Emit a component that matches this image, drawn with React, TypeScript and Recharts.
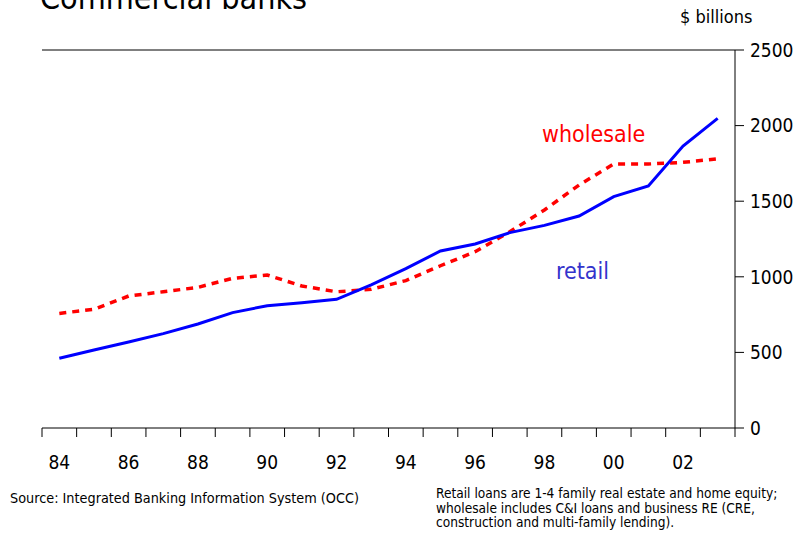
import React from 'react';
import {
  LineChart,
  Line,
  XAxis,
  YAxis,
  ReferenceLine,
} from 'recharts';

const years = [
  1984, 1985, 1986, 1987, 1988, 1989, 1990, 1991, 1992, 1993,
  1994, 1995, 1996, 1997, 1998, 1999, 2000, 2001, 2002, 2003,
];
const retail = [
  461, 516, 569, 624, 688, 763, 809, 829, 851, 946,
  1054, 1171, 1217, 1292, 1340, 1402, 1530, 1601, 1865, 2048,
];
const wholesale = [
  758, 785, 873, 901, 930, 990, 1012, 939, 901, 917,
  975, 1073, 1166, 1298, 1442, 1607, 1746, 1746, 1757, 1780,
];
const yTicks = [0, 500, 1000, 1500, 2000, 2500];
// boundaries between year bands, where the tick marks go
const yearEdges = [...years.map((y) => y - 0.5), 2003.5];

const data = years.map((year, i) => ({
  year,
  retail: retail[i],
  wholesale: wholesale[i],
}));

const FONT = "'DejaVu Sans Condensed', 'Liberation Sans Narrow', sans-serif";
const HALF_BAND = 17.3;

function YearTick(props: any) {
  const { x, y, payload } = props;
  const year = payload.value + 0.5;
  if (year > 2003 || year % 2 !== 0) return null;
  return (
    <text
      x={x + HALF_BAND}
      y={y + 30}
      textAnchor="middle"
      fontSize={19}
      fontFamily={FONT}
      fill="#000"
    >
      {String(year % 100).padStart(2, '0')}
    </text>
  );
}

export default function App() {
  return (
    <div
      style={{
        position: 'absolute',
        left: 0,
        top: 0,
        width: 802,
        height: 533,
        background: '#fff',
        overflow: 'hidden',
        fontFamily: FONT,
      }}
    >
      <div
        style={{
          position: 'absolute',
          left: 40,
          top: -22,
          fontSize: 32,
          lineHeight: '40px',
          color: '#000',
        }}
      >
        Commercial banks
      </div>
      <div
        style={{
          position: 'absolute',
          left: 680,
          top: 6,
          fontSize: 18,
          lineHeight: '22px',
        }}
      >
        $ billions
      </div>

      <LineChart
        width={802}
        height={533}
        data={data}
        margin={{ top: 50, left: 42, right: 7, bottom: 65 }}
        style={{ position: 'absolute', left: 0, top: 0 }}
      >
        <XAxis
          dataKey="year"
          type="number"
          domain={[1983.5, 2003.5]}
          ticks={yearEdges}
          interval={0}
          height={40}
          tickSize={9}
          tick={<YearTick />}
          axisLine={{ stroke: '#000' }}
          tickLine={{ stroke: '#000' }}
        />
        <YAxis
          yAxisId="r"
          orientation="right"
          domain={[0, 2500]}
          ticks={yTicks}
          width={60}
          tickSize={9}
          tickMargin={6}
          axisLine={{ stroke: '#000' }}
          tickLine={{ stroke: '#000' }}
          tick={{ fill: '#000', fontSize: 19, fontFamily: FONT }}
        />
        <YAxis
          yAxisId="l"
          orientation="left"
          domain={[0, 2500]}
          width={0}
          tick={false}
          tickLine={false}
          axisLine={{ stroke: '#000' }}
        />
        <ReferenceLine yAxisId="r" y={2500} stroke="#000" />
        <Line
          yAxisId="r"
          dataKey="wholesale"
          stroke="#ff0000"
          strokeWidth={3.5}
          strokeDasharray="7 6"
          dot={false}
          type="linear"
          isAnimationActive={false}
        />
        <Line
          yAxisId="r"
          dataKey="retail"
          stroke="#0000ff"
          strokeWidth={3}
          dot={false}
          type="linear"
          isAnimationActive={false}
        />
      </LineChart>

      <div
        style={{
          position: 'absolute',
          left: 542,
          top: 120,
          fontSize: 23,
          lineHeight: '28px',
          color: '#ff0000',
        }}
      >
        wholesale
      </div>
      <div
        style={{
          position: 'absolute',
          left: 556,
          top: 257,
          fontSize: 23,
          lineHeight: '28px',
          color: '#3333cc',
        }}
      >
        retail
      </div>

      <div
        style={{
          position: 'absolute',
          left: 10,
          top: 490,
          fontSize: 14.3,
          lineHeight: '17px',
        }}
      >
        Source: Integrated Banking Information System (OCC)
      </div>
      <div
        style={{
          position: 'absolute',
          left: 436,
          top: 486,
          fontSize: 13.6,
          lineHeight: '14.5px',
          width: 370,
        }}
      >
        Retail loans are 1-4 family real estate and home equity;
        <br />
        wholesale includes C&amp;I loans and business RE (CRE,
        <br />
        construction and multi-family lending).
      </div>
    </div>
  );
}
